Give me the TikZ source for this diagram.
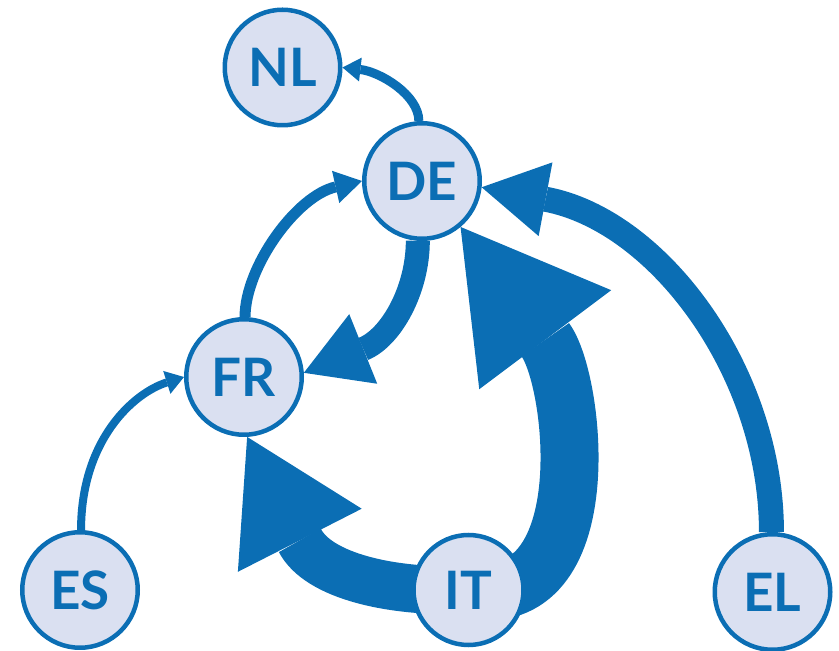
\documentclass[tikz,border=0pt]{standalone}
\usepackage{fontspec}
\setmainfont{Lato}
\usetikzlibrary{arrows.meta}
\definecolor{myblue}{RGB}{11,110,180}
\definecolor{mylight}{RGB}{218,224,241}
\pgfdeclarelayer{bg}
\pgfsetlayers{bg,main}
\tikzset{
  nd/.style={circle, draw=myblue, fill=mylight, line width=4.5pt, minimum size=115.5pt,
    inner sep=0pt, text=myblue, font=\fontsize{53}{53}\selectfont\bfseries},
  ar/.style n args={3}{draw=myblue, line cap=butt, line width=#1pt,
    -{Triangle[length=#2pt 0 0, width=#3pt 0 0, line width=0pt 0, fill=myblue]}},
}
\begin{document}
\begin{tikzpicture}[x=1pt,y=1pt]
\useasboundingbox (0,0) rectangle (839,651);
\node[nd] (NL) at (282.5,583.5) {NL};
\node[nd] (DE) at (422,470) {DE};
\node[nd] (FR) at (244,274) {FR};
\node[nd] (ES) at (80,61) {ES};
\node[nd, minimum size=110pt] (IT) at (468.5,61) {IT};
\node[nd] (EL) at (772.5,59) {EL};
\begin{pgfonlayer}{bg}
\draw[ar={9}{18}{24}] (DE.93) .. controls +(0,26) and +(-6.5:38) .. (NL.0);
\draw[ar={11}{27}{33}] (FR.89) .. controls +(0,50) and +(192.7:67) .. (DE.180);
\draw[ar={24}{64}{75}] (DE.-94) .. controls +(0,-49) and +(21.9:94) .. (FR.4);
\draw[ar={48}{116}{139}] (IT.center) .. controls +(-77,-3) and +(-63:156) .. (FR.-87);
\draw[ar={58}{141}{165}] (IT.center) .. controls +(133,-23) and +(-53.1:191) .. (DE.-50);
\draw[ar={25}{65}{75}] (EL.91) .. controls +(0,160) and +(-10.6:180) .. (DE.-6);
\draw[ar={8}{18}{24}] (ES.89) .. controls +(0,90) and +(197.5:53) .. (FR.180);
\end{pgfonlayer}
\end{tikzpicture}
\end{document}
